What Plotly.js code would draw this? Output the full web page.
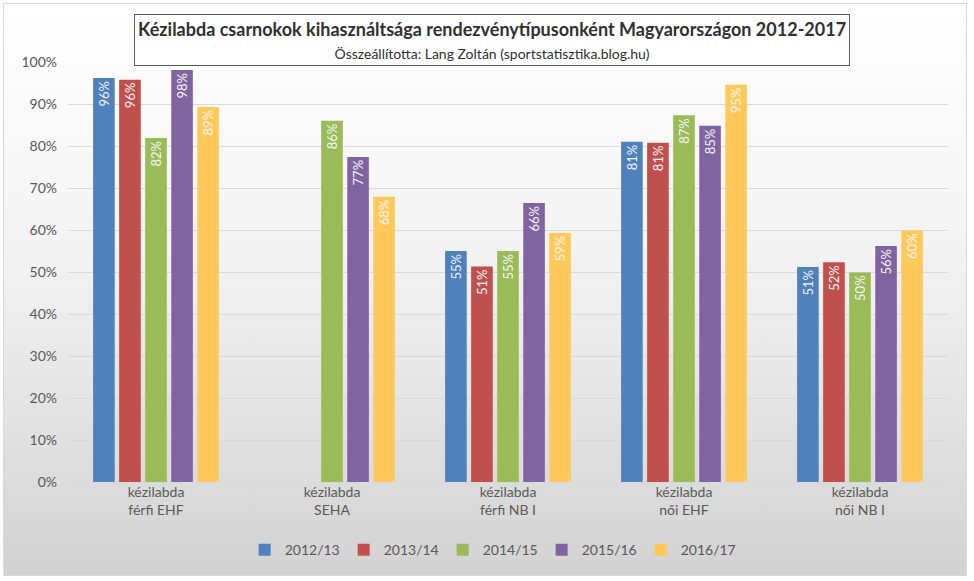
<!DOCTYPE html>
<html><head><meta charset="utf-8">
<script src="https://cdn.plot.ly/plotly-3.0.1.min.js"></script>
<style>
html,body{margin:0;padding:0;background:#fff;}
#wrap{position:absolute;left:3px;top:3px;width:962px;height:571px;border:1px solid #d9d9d9;
background:linear-gradient(to bottom,#ffffff 0%,#f2f2f2 45%,#d2d2d2 100%);}
#chart{position:absolute;left:0;top:0;width:974px;height:581px;}
</style></head>
<body>
<div id="wrap"></div>
<div id="chart"></div>
<script>
const categories = ["kézilabda<br>férfi EHF","kézilabda<br>SEHA","kézilabda<br>férfi NB I","kézilabda<br>női EHF","kézilabda<br>női NB I"];
const seriesNames = ["2012/13","2013/14","2014/15","2015/16","2016/17"];
const s2012 = [96.2, null, 55.0, 81.0, 51.2];
const s2013 = [95.8, null, 51.3, 80.8, 52.3];
const s2014 = [81.9, 86.0, 55.0, 87.3, 49.9];
const s2015 = [98.1, 77.4, 66.4, 84.8, 56.2];
const s2016 = [89.3, 67.9, 59.3, 94.6, 59.9];
const colors = ["#4F81BD","#C0504D","#9BBB59","#8064A2","#FFC95A"];
const allSeries = [s2012,s2013,s2014,s2015,s2016];

const font = "Lato, 'Open Sans', sans-serif";
const traces = allSeries.map((vals,i)=>({
  type:'bar', name:seriesNames[i], x:categories, y:vals,
  marker:{color:colors[i]},
  texttemplate:'%{y:.0f}%', textposition:'inside', insidetextanchor:'end',
  textangle:-90, constraintext:'none',
  textfont:{family:font,size:13,color:'#f4f4f4'},
  hoverinfo:'skip'
}));

const layout = {
  width:974, height:581,
  margin:{l:68,r:26,t:62,b:99},
  paper_bgcolor:'rgba(0,0,0,0)', plot_bgcolor:'rgba(0,0,0,0)',
  barmode:'group', bargap:0.26, bargroupgap:0.17,
  font:{family:font,size:14,color:'#595959'},
  xaxis:{showgrid:false, zeroline:false, showline:false, ticks:'', tickfont:{size:14,color:'#595959'}},
  yaxis:{range:[0,100], dtick:10, ticksuffix:'%', showgrid:true, gridcolor:'#d9d9d9', gridwidth:1,
         zeroline:true, zerolinecolor:'#d9d9d9', showline:false, ticks:'', ticklabelstandoff:10,
         tickfont:{size:14,color:'#595959'}},
  showlegend:true,
  legend:{orientation:'h', x:0.482, xanchor:'center', y:-0.162, yanchor:'middle',
          font:{size:14,color:'#595959'}, itemwidth:30, entrywidth:54, entrywidthmode:'pixels',
          bgcolor:'rgba(0,0,0,0)'},
  annotations:[{
    xref:'paper', yref:'paper', x:0.482, y:1.052, xanchor:'center', yanchor:'middle',
    text:"<b>Kézilabda csarnokok kihasználtsága rendezvénytípusonként Magyarországon 2012-2017</b><br><span style='font-size:14px'>Összeállította: Lang Zoltán (sportstatisztika.blog.hu)</span>",
    showarrow:false, bgcolor:'#ffffff', bordercolor:'#595959', borderwidth:1, borderpad:3,
    font:{family:font,size:18,color:'#303030'}
  }]
};
Plotly.newPlot('chart', traces, layout, {displayModeBar:false, staticPlot:true});
</script>
</body></html>
